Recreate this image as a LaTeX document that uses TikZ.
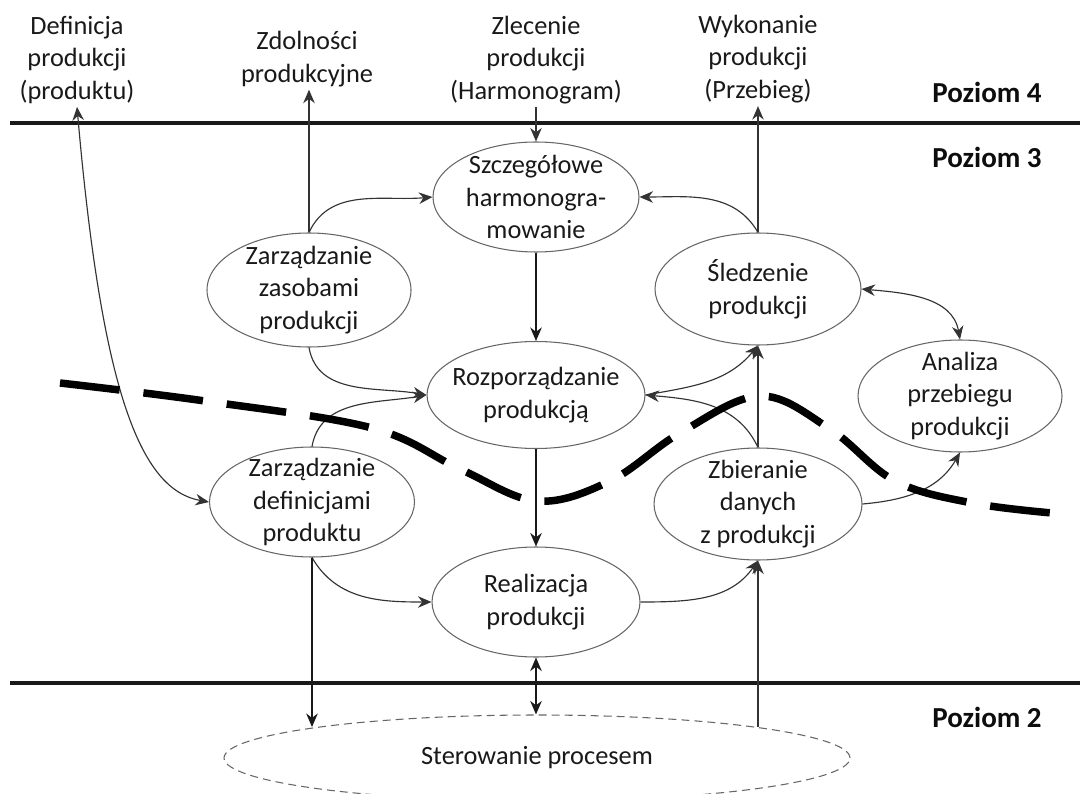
\documentclass[tikz,border=0pt]{standalone}
\usepackage{fontspec}
\setmainfont{Carlito}
\usetikzlibrary{shapes.geometric,arrows.meta}
\newcommand{\procfont}{\fontsize{15}{18.7}\selectfont}
\tikzset{
	proc/.style={ellipse, draw=black!60, line width=0.6pt, inner sep=-3mm,
		align=center, font=\procfont, text=black!90},
	extlabel/.style={align=center, font=\procfont, text=black!90, inner sep=0.5mm},
	levelname/.style={font=\fontsize{16.5}{20}\selectfont\bfseries, text=black!95},
	flow/.style={draw=black!80, line width=0.65pt, ->},
	mainflow/.style={flow, draw=black!90, line width=1pt},
	border line/.style={line width=2.8pt, black!90},
	rupture/.style={line width=1.5mm, dash pattern=on 12mm off 4.8mm, black}
}

\begin{document}
\begin{tikzpicture}[x=0.2mm,y=0.2mm,>={Stealth[length=2.7mm,width=2.3mm]}]
		\useasboundingbox (0,0) rectangle (1080,793);
		% level borders
		\draw[border line] (10,670) -- (1080,670);
		\draw[border line] (10,110) -- (1080,110);
		\node[levelname] (poz4) at (987,701) {Poziom 4};
		\node[levelname] (poz3) at (987,636) {Poziom 3};
		\node[levelname] (poz2) at (987,76) {Poziom 2};
		% level 4 information
		\node[extlabel] (defprod) at (77,733) {Definicja\\produkcji\\(produktu)};
		\node[extlabel] (zdolnosci) at (307,734) {Zdolności\\produkcyjne};
		\node[extlabel] (zlecenie) at (536,733) {Zlecenie\\produkcji\\(Harmonogram)};
		\node[extlabel] (wykonanie) at (758,734) {Wykonanie\\produkcji\\(Przebieg)};
		% activities
		\node[proc, minimum width=41.2mm, minimum height=22mm] (harmon) at (536,596)
		{Szczegółowe\\harmonogra-\\mowanie};
		\node[proc, minimum width=40.8mm, minimum height=22.8mm] (zasoby) at (309,503)
		{Zarządzanie\\zasobami\\produkcji};
		\node[proc, minimum width=41.2mm, minimum height=22.4mm] (sledzenie) at (758,504)
		{Śledzenie\\produkcji};
		\node[proc, minimum width=43.6mm, minimum height=21.4mm] (rozporz) at (536,398)
		{Rozporządzanie\\produkcją};
		\node[proc, minimum width=40.8mm, minimum height=22.4mm] (analiza) at (960,397)
		{Analiza\\przebiegu\\produkcji};
		\node[proc, minimum width=41mm, minimum height=22mm] (definicje) at (312,291)
		{Zarządzanie\\definicjami\\produktu};
		\node[proc, minimum width=41.6mm, minimum height=22.4mm] (zbieranie) at (758,289)
		{Zbieranie\\danych\\z produkcji};
		\node[proc, minimum width=41.6mm, minimum height=22mm] (realizacja) at (536,191)
		{Realizacja\\produkcji};
		\node[proc, dash pattern=on 1.6mm off 1mm, minimum width=125.2mm,
		minimum height=17.2mm] (sterowanie) at (537,35) {Sterowanie procesem};
		% flows
		\draw[flow] (zlecenie.south) -- (harmon.north);
		\draw[mainflow] (harmon.south) -- (rozporz.north);
		\draw[mainflow] (rozporz.south) -- (realizacja.north);
		\draw[mainflow,<->] (realizacja.south) -- (realizacja.south |- sterowanie.north);
		\draw[flow] (zasoby.north) -- (zasoby.north |- zdolnosci.south);
		\draw[flow] (zasoby.north) to[out=65,in=185] (harmon.west);
		\draw[flow,<->] (defprod.south) to[out=-85,in=170,out distance=57mm,in distance=14mm]
		(definicje.west);
		\draw[flow] (sledzenie.north) -- (sledzenie.north |- wykonanie.south);
		\draw[flow] (sledzenie.north) to[out=120,in=0] (harmon.east);
		\draw[flow,<->] (sledzenie.east) to[out=-5,in=100] (analiza.north);
		\draw[flow] (zasoby.south) to[out=-80,in=170] (rozporz.west);
		\draw[flow] (definicje.north) to[out=80,in=190] (rozporz.west);
		\draw[flow] (zbieranie.north) -- (sledzenie.south);
		\draw[flow] (zbieranie.north) to[out=115,in=-5] (rozporz.east);
		\draw[flow] (rozporz.east) to[out=10,in=230] (sledzenie.south);
		\draw[flow] (realizacja.east) to[out=0,in=235] (zbieranie.south);
		\draw[flow] (zbieranie.east) to[out=5,in=240] (analiza.south);
		\draw[flow] (definicje.south) to[out=-60,in=180] (realizacja.west);
		\draw[mainflow] (definicje.south) -- (definicje.south |- sterowanie.172);
		\draw[flow] (zbieranie.south |- sterowanie.8) -- (zbieranie.south);
		% boundary of the MES scope
		\draw[rupture] plot[smooth, tension=0.6] coordinates {(60,410) (205,392) (372,365)
			(460,324) (537,292) (610,312) (680,360) (760,397) (830,364) (895,312)
			(972,290) (1052,280)};
\end{tikzpicture}
\end{document}
